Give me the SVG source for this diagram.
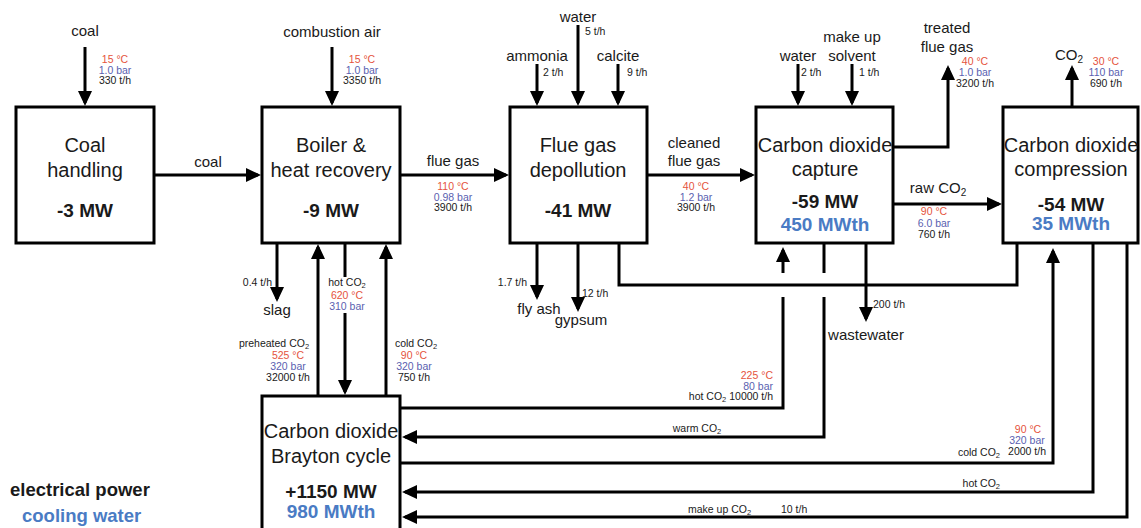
<svg xmlns="http://www.w3.org/2000/svg" width="1141" height="528" viewBox="0 0 1141 528">
<style>
text{font-family:"Liberation Sans",Arial,sans-serif;fill:#1a1a1a}
.box{fill:#fff;stroke:#000;stroke-width:3}
.big{font-size:20px;text-anchor:middle}
.mw{font-size:19px;font-weight:bold;text-anchor:middle}
.th{fill:#4a7bc4}
.lab{font-size:15px;text-anchor:middle}
.s{font-size:10.5px}
.m{text-anchor:middle}
.e{text-anchor:end}
.r{fill:#e5533d}
.b{fill:#5a5fb0}
.c{fill:none;stroke:#000;stroke-width:3}
.leg{font-size:18.5px;font-weight:bold}
</style>
<defs>
<marker id="ah" viewBox="0 0 15 14" refX="12" refY="7" markerWidth="15" markerHeight="14" markerUnits="userSpaceOnUse" orient="auto"><path d="M0,0 L15,7 L0,14 z" fill="#000"/></marker>
</defs>
<rect width="1141" height="528" fill="#fff"/>

<g id="connectors">
<path class="c" marker-end="url(#ah)" d="M85,47 V103"/>
<path class="c" marker-end="url(#ah)" d="M332,47 V103"/>
<path class="c" marker-end="url(#ah)" d="M578,25 V103"/>
<path class="c" marker-end="url(#ah)" d="M537,64 V103"/>
<path class="c" marker-end="url(#ah)" d="M618,64 V103"/>
<path class="c" marker-end="url(#ah)" d="M798,64 V103"/>
<path class="c" marker-end="url(#ah)" d="M852,64 V103"/>
<path class="c" marker-end="url(#ah)" d="M154,175 H258"/>
<path class="c" marker-end="url(#ah)" d="M400,175 H506"/>
<path class="c" marker-end="url(#ah)" d="M647,175 H752"/>
<path class="c" marker-end="url(#ah)" d="M893,147 H948 V68"/>
<path class="c" marker-end="url(#ah)" d="M893,204 H999"/>
<path class="c" marker-end="url(#ah)" d="M1072,107 V68"/>
<path class="c" marker-end="url(#ah)" d="M277,243 V299"/>
<path class="c" marker-end="url(#ah)" d="M318,396 V247"/>
<path class="c" d="M345,243 V277"/>
<path class="c" marker-end="url(#ah)" d="M345,313 V392"/>
<path class="c" marker-end="url(#ah)" d="M386,396 V247"/>
<path class="c" marker-end="url(#ah)" d="M537,243 V297"/>
<path class="c" marker-end="url(#ah)" d="M578,243 V309"/>
<path class="c" d="M619,243 V285 H1017 V243"/>
<path class="c" marker-end="url(#ah)" d="M866,243 V319"/>
<path class="c" marker-end="url(#ah)" d="M783,273 V250"/>
<path class="c" d="M400,408 H783 V297"/>
<path class="c" d="M824,243 V273"/>
<path class="c" marker-end="url(#ah)" d="M824,297 V437 H405"/>
<path class="c" marker-end="url(#ah)" d="M400,463 H1053 V251"/>
<path class="c" marker-end="url(#ah)" d="M1093,243 V492 H405"/>
<path class="c" marker-end="url(#ah)" d="M1127,243 V517 H405"/>
</g>

<g id="coal-handling">
<rect class="box" x="16" y="107" width="138" height="136"/>
<text class="big" x="85" y="152">Coal</text>
<text class="big" x="85" y="177">handling</text>
<text class="mw" x="85" y="217">-3 MW</text>
</g>

<g id="boiler">
<rect class="box" x="262" y="107" width="138" height="136"/>
<text class="big" x="331" y="152">Boiler &amp;</text>
<text class="big" x="331" y="177">heat recovery</text>
<text class="mw" x="331" y="217">-9 MW</text>
</g>

<g id="depollution">
<rect class="box" x="510" y="107" width="137" height="136"/>
<text class="big" x="578" y="152">Flue gas</text>
<text class="big" x="578" y="177">depollution</text>
<text class="mw" x="578" y="217">-41 MW</text>
</g>

<g id="capture">
<rect class="box" x="756" y="107" width="137" height="136"/>
<text class="big" x="825" y="152">Carbon dioxide</text>
<text class="big" x="825" y="176">capture</text>
<text class="mw" x="825" y="208">-59 MW</text>
<text class="mw th" x="825" y="231">450 MWth</text>
</g>

<g id="compression">
<rect class="box" x="1003" y="107" width="135" height="136"/>
<text class="big" x="1071" y="152">Carbon dioxide</text>
<text class="big" x="1071" y="176">compression</text>
<text class="mw" x="1071" y="211">-54 MW</text>
<text class="mw th" x="1071" y="230">35 MWth</text>
</g>

<g id="brayton">
<rect class="box" x="262" y="396" width="138" height="150"/>
<text class="big" x="331" y="438">Carbon dioxide</text>
<text class="big" x="331" y="463">Brayton cycle</text>
<text class="mw" x="331" y="498">+1150 MW</text>
<text class="mw th" x="331" y="518">980 MWth</text>
</g>

<g id="labels">
<text class="lab" x="85" y="36">coal</text>
<text class="s m r" x="115" y="63">15 °C</text>
<text class="s m b" x="115" y="73.5">1.0 bar</text>
<text class="s m" x="115" y="84">330 t/h</text>

<text class="lab" x="332" y="37">combustion air</text>
<text class="s m r" x="362" y="63">15 °C</text>
<text class="s m b" x="362" y="73.5">1.0 bar</text>
<text class="s m" x="362" y="84">3350 t/h</text>

<text class="lab" x="578" y="22">water</text>
<text class="s" x="585" y="35">5 t/h</text>
<text class="lab" x="537" y="61">ammonia</text>
<text class="s" x="543" y="76">2 t/h</text>
<text class="lab" x="618" y="61">calcite</text>
<text class="s" x="627" y="76">9 t/h</text>

<text class="lab" x="798" y="61">water</text>
<text class="s" x="801" y="76">2 t/h</text>
<text class="lab" x="852" y="42">make up</text>
<text class="lab" x="852" y="61">solvent</text>
<text class="s" x="859" y="76">1 t/h</text>

<text class="lab" x="947" y="33">treated</text>
<text class="lab" x="947" y="52">flue gas</text>
<text class="s m r" x="975" y="65">40 °C</text>
<text class="s m b" x="975" y="75.5">1.0 bar</text>
<text class="s m" x="975" y="86.5">3200 t/h</text>

<text class="lab" x="1069" y="60">CO<tspan font-size="10" dy="3">2</tspan></text>
<text class="s m r" x="1106" y="65">30 °C</text>
<text class="s m b" x="1106" y="75.5">110 bar</text>
<text class="s m" x="1106" y="86.5">690 t/h</text>

<text class="lab" x="208" y="167">coal</text>
<text class="lab" x="453" y="166">flue gas</text>
<text class="s m r" x="453" y="190">110 °C</text>
<text class="s m b" x="453" y="200.5">0.98 bar</text>
<text class="s m" x="453" y="211">3900 t/h</text>

<text class="lab" x="694" y="148">cleaned</text>
<text class="lab" x="694" y="166">flue gas</text>
<text class="s m r" x="696" y="190">40 °C</text>
<text class="s m b" x="696" y="200.5">1.2 bar</text>
<text class="s m" x="696" y="211">3900 t/h</text>

<text class="lab" x="938" y="193">raw CO<tspan font-size="10" dy="3">2</tspan></text>
<text class="s m r" x="934" y="215">90 °C</text>
<text class="s m b" x="934" y="226.5">6.0 bar</text>
<text class="s m" x="934" y="238">760 t/h</text>

<text class="s e" x="272" y="286">0.4 t/h</text>
<text class="lab" x="277" y="315">slag</text>

<text class="s m" x="347" y="286">hot CO<tspan font-size="7.5" dy="2">2</tspan></text>
<text class="s m r" x="347" y="299">620 °C</text>
<text class="s m b" x="347" y="310">310 bar</text>

<text class="s m" x="274" y="347">preheated CO<tspan font-size="7.5" dy="2">2</tspan></text>
<text class="s m r" x="288" y="359">525 °C</text>
<text class="s m b" x="288" y="370">320 bar</text>
<text class="s m" x="288" y="381">32000 t/h</text>

<text class="s m" x="416" y="347">cold CO<tspan font-size="7.5" dy="2">2</tspan></text>
<text class="s m r" x="414" y="359">90 °C</text>
<text class="s m b" x="414" y="370">320 bar</text>
<text class="s m" x="414" y="381">750 t/h</text>

<text class="s e" x="527" y="286">1.7 t/h</text>
<text class="lab" x="539" y="314">fly ash</text>
<text class="s" x="582" y="297">12 t/h</text>
<text class="lab" x="581" y="325">gypsum</text>

<text class="s" x="873" y="308">200 t/h</text>
<text class="lab" x="866" y="340">wastewater</text>

<text class="s e r" x="773" y="379">225 °C</text>
<text class="s e b" x="773" y="389.5">80 bar</text>
<text class="s e" x="773" y="400">hot CO<tspan font-size="7.5" dy="2">2</tspan><tspan dy="-2"> 10000 t/h</tspan></text>

<text class="s m" x="697" y="432">warm CO<tspan font-size="7.5" dy="2">2</tspan></text>

<text class="s m r" x="1028" y="433">90 °C</text>
<text class="s m b" x="1027" y="444">320 bar</text>
<text class="s e" x="1046" y="455">2000 t/h</text>
<text class="s e" x="1000" y="456">cold CO<tspan font-size="7.5" dy="2">2</tspan></text>

<text class="s e" x="1000" y="487">hot CO<tspan font-size="7.5" dy="2">2</tspan></text>

<text class="s" x="688" y="513">make up CO<tspan font-size="7.5" dy="2">2</tspan></text>
<text class="s" x="781" y="513">10 t/h</text>
</g>

<g id="legend">
<text class="leg" x="10" y="496">electrical power</text>
<text class="leg th" x="22" y="522">cooling water</text>
</g>
</svg>
